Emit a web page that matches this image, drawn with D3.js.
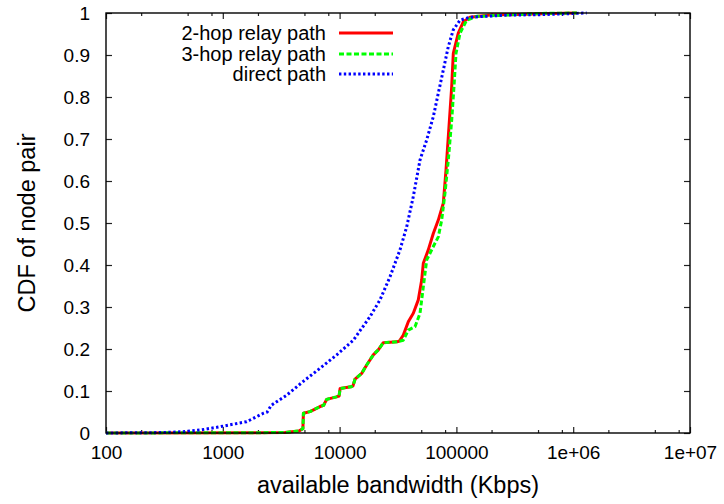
<!DOCTYPE html>
<html>
<head>
<meta charset="utf-8">
<script src="https://cdn.jsdelivr.net/npm/d3@7"></script>
<style>
  html, body { margin: 0; padding: 0; background: #fff; }
  svg { display: block; }
  text { font-family: "Liberation Sans", Arial, Helvetica, sans-serif; fill: #000; }
</style>
</head>
<body>
<svg id="chart" width="724" height="504"></svg>
<script>
// ---- data ----
const xTickValues = [100, 1000, 10000, 100000, 1e6, 1e7];
const xTickLabels = ["100", "1000", "10000", "100000", "1e+06", "1e+07"];
const xMinorTicks = [200, 500, 800, 2000, 5000, 8000, 20000, 50000, 80000,
                     200000, 500000, 800000, 2e6, 5e6, 8e6];
const yTickValues = [0, 0.1, 0.2, 0.3, 0.4, 0.5, 0.6, 0.7, 0.8, 0.9, 1];
const yTickLabels = ["0", "0.1", "0.2", "0.3", "0.4", "0.5", "0.6", "0.7", "0.8", "0.9", "1"];
const seriesNames = ["2-hop relay path", "3-hop relay path", "direct path"];
const seriesColors = ["#ff0000", "#00ff00", "#0000ff"];
const xTitle = "available bandwidth (Kbps)";
const yTitle = "CDF of node pair";

const twoHopBw  = [100, 3400, 4500, 4850, 4900, 5580, 6800, 7300, 7750, 9400, 9900, 10100, 12500, 13000, 13550,
                   15460, 17060, 19430, 21450, 23670, 31000, 32500, 35120, 38740, 42760, 47190, 50460, 52080,
                   57460, 63420, 69980, 77230, 81470, 85250, 91160, 94080, 103800, 114600, 130800, 194000,
                   519800, 1070000];
const twoHopCdf = [0, 0.001, 0.005, 0.01, 0.047, 0.051, 0.063, 0.066, 0.080, 0.086, 0.088, 0.106, 0.110, 0.112, 0.128,
                   0.142, 0.162, 0.186, 0.198, 0.215, 0.217, 0.219, 0.233, 0.265, 0.285, 0.317, 0.364, 0.404,
                   0.436, 0.475, 0.507, 0.547, 0.626, 0.705, 0.825, 0.904, 0.952, 0.979, 0.99, 0.995,
                   0.998, 1.0];

const threeHopBw  = [100, 3400, 4500, 4850, 4900, 5580, 6800, 7300, 7750, 9400, 9900, 10100, 12500, 13000, 13550,
                     15460, 17060, 19430, 21450, 23670, 31000, 33000, 35120, 38740, 44200, 48800, 52080, 55680,
                     63420, 69980, 74830, 79870, 85250, 91160, 95380, 99220, 107400, 122500, 149200, 269600,
                     519800, 1100000];
const threeHopCdf = [0, 0.001, 0.005, 0.01, 0.047, 0.051, 0.063, 0.066, 0.080, 0.086, 0.088, 0.106, 0.110, 0.112, 0.128,
                     0.142, 0.162, 0.186, 0.198, 0.215, 0.217, 0.219, 0.221, 0.245, 0.253, 0.285, 0.348, 0.412,
                     0.444, 0.467, 0.507, 0.571, 0.65, 0.745, 0.825, 0.904, 0.952, 0.983, 0.992, 0.995,
                     0.999, 1.0];

const directBw  = [100, 300, 459, 638, 887, 1230, 1602, 1710, 2222, 2400, 2600, 3524, 4890, 6795, 9446, 13103,
                   18208, 22182, 27009, 32888, 37541, 42756, 48800, 55680, 63420, 69980, 77230, 85250, 94080,
                   107400, 130800, 269600, 519800, 1305000];
const directCdf = [0, 0.001, 0.003, 0.007, 0.0135, 0.021, 0.027, 0.031, 0.047, 0.05, 0.066, 0.09, 0.123, 0.154, 0.186, 0.221,
                   0.277, 0.317, 0.372, 0.436, 0.491, 0.563, 0.65, 0.698, 0.753, 0.809, 0.864, 0.92, 0.96,
                   0.983, 0.99, 0.995, 0.996, 1.0];

// ---- layout ----
const L = 106, R = 690, T = 13, B = 433;
const svg = d3.select("#chart");
const x = d3.scaleLog().domain([100, 1e7]).range([L, R]);
const y = d3.scaleLinear().domain([0, 1]).range([B, T]);

function styleAxis(g) {
  g.select(".domain").remove();
  g.selectAll(".tick line").attr("stroke", "#222").attr("stroke-width", 1.2);
  g.selectAll(".tick text").style("font-size", "19px").style("font-family", '"Liberation Sans", Arial, sans-serif').attr("fill", "#000");
}

// minor ticks (bottom / top)
svg.append("g").attr("transform", `translate(0,${B})`)
  .call(d3.axisBottom(x).tickValues(xMinorTicks).tickSize(-3).tickFormat(""))
  .call(styleAxis);
svg.append("g").attr("transform", `translate(0,${T})`)
  .call(d3.axisTop(x).tickValues(xMinorTicks).tickSize(-3).tickFormat(""))
  .call(styleAxis);

// major ticks
const xb = svg.append("g").attr("transform", `translate(0,${B})`)
  .call(d3.axisBottom(x).tickValues(xTickValues).tickSizeInner(-6).tickSizeOuter(0).tickPadding(9)
        .tickFormat((d, i) => xTickLabels[i]))
  .call(styleAxis);
xb.selectAll(".tick text").attr("dy", "0.9em");
svg.append("g").attr("transform", `translate(0,${T})`)
  .call(d3.axisTop(x).tickValues(xTickValues).tickSize(-6).tickFormat(""))
  .call(styleAxis);

svg.append("g").attr("transform", `translate(${L},0)`)
  .call(d3.axisLeft(y).tickValues(yTickValues).tickSizeInner(-6).tickSizeOuter(0).tickPadding(16)
        .tickFormat((d, i) => yTickLabels[i]))
  .call(styleAxis);
svg.append("g").attr("transform", `translate(${R},0)`)
  .call(d3.axisRight(y).tickValues(yTickValues).tickSize(-6).tickFormat(""))
  .call(styleAxis);

// series
const series = [
  { bw: twoHopBw, cdf: twoHopCdf, dash: null },
  { bw: threeHopBw, cdf: threeHopCdf, dash: "5,2.5" },
  { bw: directBw, cdf: directCdf, dash: "2.4,2.4" }
];
const line = d3.line().x(d => x(d[0])).y(d => y(d[1]));
const plot = svg.append("g");
series.forEach((s, i) => {
  const pts = s.bw.map((b, j) => [b, s.cdf[j]]);
  plot.append("path").datum(pts)
    .attr("d", line)
    .attr("fill", "none")
    .attr("stroke", seriesColors[i])
    .attr("stroke-width", 3)
    .attr("stroke-dasharray", s.dash)
    .attr("stroke-linejoin", "round");
});

// border
svg.append("rect").attr("x", L).attr("y", T).attr("width", R - L).attr("height", B - T)
  .attr("fill", "none").attr("stroke", "#000").attr("stroke-width", 1.4);

// legend
const legend = svg.append("g");
const legendY = [33, 54, 74];
seriesNames.forEach((name, i) => {
  legend.append("text").attr("x", 326).attr("y", legendY[i]).attr("dy", "0.35em")
    .attr("text-anchor", "end").style("font-size", "20px").text(name);
  legend.append("line").attr("x1", 339).attr("x2", 393).attr("y1", legendY[i]).attr("y2", legendY[i])
    .attr("stroke", seriesColors[i]).attr("stroke-width", 3)
    .attr("stroke-dasharray", series[i].dash);
});

// axis titles
svg.append("text").attr("x", (L + R) / 2).attr("y", 493).attr("text-anchor", "middle")
  .style("font-size", "23.5px").text(xTitle);
svg.append("text").attr("transform", "translate(35,223) rotate(-90)").attr("text-anchor", "middle")
  .style("font-size", "23.5px").text(yTitle);
</script>
</body>
</html>
